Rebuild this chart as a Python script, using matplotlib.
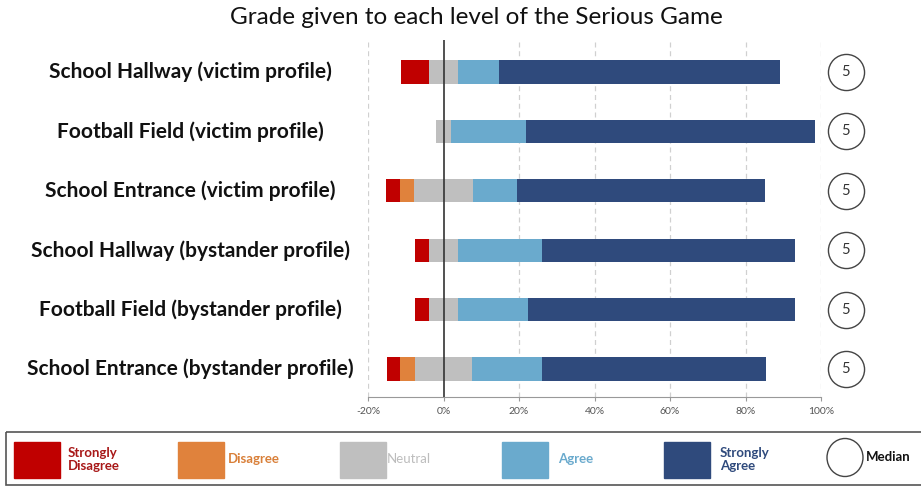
import matplotlib
matplotlib.use("Agg")
import matplotlib.pyplot as plt
from matplotlib.patches import Rectangle, Ellipse
import matplotlib.transforms as mtransforms
import numpy as np

plt.rcParams['font.family'] = ['Lato', 'DejaVu Sans']

categories = [
    "School Hallway (victim profile)",
    "Football Field (victim profile)",
    "School Entrance (victim profile)",
    "School Hallway (bystander profile)",
    "Football Field (bystander profile)",
    "School Entrance (bystander profile)",
]
strongly_disagree = [7.5, 0.0, 3.8, 3.8, 3.8, 3.6]
disagree = [0.0, 0.0, 3.8, 0.0, 0.0, 3.8]
neutral = [7.6, 4.1, 15.5, 7.6, 7.6, 15.2]
agree = [11.0, 19.9, 11.6, 22.2, 18.5, 18.4]
strongly_agree = [74.4, 76.5, 65.8, 67.0, 70.7, 59.4]
medians = ["5", "5", "5", "5", "5", "5"]

xticks = [-20, 0, 20, 40, 60, 80, 100]
xticklabels = ["-20%", "0%", "20%", "40%", "60%", "80%", "100%"]

series_names = ["Strongly\nDisagree", "Disagree", "Neutral", "Agree", "Strongly\nAgree"]
colors = ["#C00000", "#E0823C", "#BFBFBF", "#6AAACD", "#2F4A7C"]
text_colors = ["#A81818", "#D9803A", "#BDBDBD", "#6AAACD", "#2F4A7C"]

W, H = 921, 491
fig = plt.figure(figsize=(W / 100, H / 100), dpi=100)

ax = fig.add_axes([368 / W, 1 - 397 / H, (821 - 368) / W, (397 - 40) / H])

y = np.arange(len(categories))
sd = np.array(strongly_disagree)
d = np.array(disagree)
n = np.array(neutral)
a = np.array(agree)
sa = np.array(strongly_agree)

left = -(sd + d + n / 2)
segments = [sd, d, n, a, sa]
h = 0.39
for seg, col in zip(segments, colors):
    ax.barh(y, seg, left=left, height=h, color=col, edgecolor='none', zorder=3)
    left = left + seg

ax.set_xlim(-20, 100)
ax.set_ylim(len(categories) - 1 + 0.47, -0.54)
ax.set_xticks(xticks)
ax.set_xticklabels(xticklabels, fontsize=7.5, color="#555555")
ax.tick_params(axis='x', length=3, color="#999999", pad=4)
ax.set_yticks(y)
ax.set_yticklabels([])
ax.tick_params(axis='y', length=0)

for xv in xticks:
    if xv != 0:
        ax.axvline(xv, color="#D0D0D0", linestyle=(0, (4, 3)), linewidth=0.9, zorder=1)
ax.axvline(0, color="#333333", linewidth=1.2, zorder=4)

for s in ['top', 'right', 'left']:
    ax.spines[s].set_visible(False)
ax.spines['bottom'].set_color("#999999")

label_tr = mtransforms.blended_transform_factory(fig.transFigure, ax.transData)
for yi, cat in zip(y, categories):
    ax.text(190 / W, yi, cat, transform=label_tr, fontsize=15,
            fontweight='bold', ha='center', va='center', color="#111111")

for yi, m in zip(y, medians):
    ax.scatter([106.5], [yi], s=26 ** 2, facecolor='white', edgecolor='#444444',
               linewidth=1.0, clip_on=False, zorder=5)
    ax.text(106.5, yi, m, fontsize=10.5, ha='center', va='center', color="#333333",
            clip_on=False, zorder=6)

fig.text(476 / W, 1 - 18 / H, "Grade given to each level of the Serious Game",
         fontsize=17.5, ha='center', va='center', color="#111111")

# legend
lx0, ly0, lx1, ly1 = 5, 432, 921, 485
lax = fig.add_axes([lx0 / W, 1 - ly1 / H, (lx1 - lx0) / W, (ly1 - ly0) / H])
lax.set_xlim(lx0, lx1)
lax.set_ylim(ly1, ly0)
lax.axis('off')
lax.add_patch(Rectangle((lx0 + 0.5, ly0), lx1 - lx0 + 5, ly1 - ly0, fill=False,
                        edgecolor="#555555", linewidth=1.2, clip_on=False))
sq_x = [14, 178, 340, 502, 664]
tx_x = [68, 228, 387, 558, 720]
for sx, tx, col, tcol, name in zip(sq_x, tx_x, colors, text_colors, series_names):
    lax.add_patch(Rectangle((sx, 442), 46, 36, color=col))
    lax.text(tx, 459.5, name, fontsize=9.5, fontweight='bold' if name != "Neutral" else 'normal',
             color=tcol, ha='left', va='center', multialignment='left', linespacing=1.05)
lax.add_patch(Ellipse((845, 457.5), 36, 38, fill=False, edgecolor="#444444", linewidth=1.0))
lax.text(866, 457, "Median", fontsize=9.5, fontweight='bold', color="#111111",
         ha='left', va='center')

fig.savefig("out.png", dpi=100)
